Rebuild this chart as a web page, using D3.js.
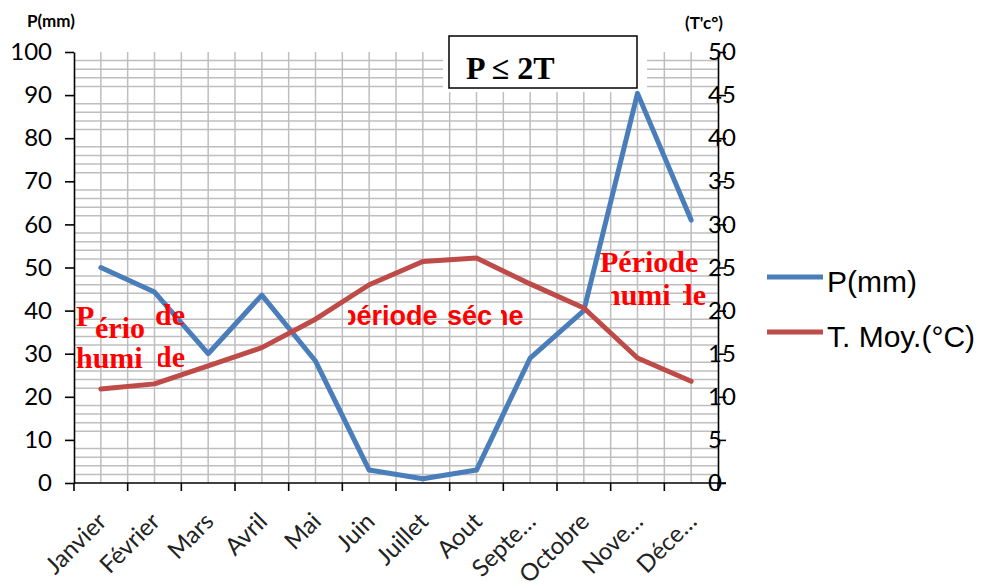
<!DOCTYPE html>
<html>
<head>
<meta charset="utf-8">
<script src="https://cdn.jsdelivr.net/npm/d3@7"></script>
<style>
  body { margin: 0; background: #fff; }
  svg { display: block; }
</style>
</head>
<body>
<div id="chart"></div>
<script>
var width = 983;
var height = 588;

// data
var months = ["Janvier", "Février", "Mars", "Avril", "Mai", "Juin", "Juillet", "Aout", "Septe…", "Octobre", "Nove…", "Déce…"];
var pluie = [50, 44.3, 30, 43.6, 28.3, 3, 1, 3, 29, 40, 90.4, 61];
var temp = [10.9, 11.5, 13.6, 15.7, 19, 23, 25.7, 26.1, 23.1, 20.3, 14.5, 11.8];
var leftTicks = [0, 10, 20, 30, 40, 50, 60, 70, 80, 90, 100];
var rightTicks = [0, 5, 10, 15, 20, 25, 30, 35, 40, 45, 50];
var legendItems = [
  {label: "P(mm)", color: "#4A7EBB"},
  {label: "T. Moy.(°C)", color: "#BE4B48"}
];

var svg = d3.select("#chart")
  .append("svg")
  .attr("width", width)
  .attr("height", height);

var x = d3.scaleBand().domain(months).range([74, 718]);
var yL = d3.scaleLinear().domain([0, 100]).range([483, 52]);
var yR = d3.scaleLinear().domain([0, 50]).range([483, 52]);

function cx(m) { return x(m) + x.bandwidth() / 2; }

// grid: minor horizontal lines every 2 mm (none on the major ticks)
var hLines = d3.range(2, 100, 2).filter(function(v) { return v % 10 != 0; });
var grid = svg.append("g").attr("stroke", "#BEBEBE").attr("stroke-width", 1.5);
grid.selectAll(".h")
  .data(hLines)
  .enter()
  .append("line")
  .attr("x1", 74).attr("x2", 718)
  .attr("y1", function(d) { return yL(d); })
  .attr("y2", function(d) { return yL(d); });

// vertical lines at every half category
var vLines = d3.range(1, months.length * 2);
grid.selectAll(".v")
  .data(vLines)
  .enter()
  .append("line")
  .attr("x1", function(d) { return 74 + d * x.bandwidth() / 2; })
  .attr("x2", function(d) { return 74 + d * x.bandwidth() / 2; })
  .attr("y1", yL(100)).attr("y2", yL(0));

// P <= 2T box
svg.append("rect")
  .attr("x", 443).attr("y", 30).attr("width", 204).attr("height", 62)
  .attr("fill", "#fff");
svg.append("rect")
  .attr("x", 449).attr("y", 36).attr("width", 188).attr("height", 52)
  .attr("fill", "#fff").attr("stroke", "#000").attr("stroke-width", 1.5);
svg.append("text")
  .attr("x", 466).attr("y", 79)
  .style("font-family", "'Liberation Serif', 'Times New Roman', serif")
  .style("font-weight", "bold").style("font-size", "32px")
  .text("P ≤ 2T");

// axes
var axisFont = "Lato, 'Open Sans', sans-serif";

var leftAxis = svg.append("g")
  .attr("transform", "translate(74,0)")
  .call(d3.axisLeft(yL).tickValues(leftTicks).tickSize(9).tickSizeOuter(0).tickPadding(13));
leftAxis.selectAll("text").style("font-family", axisFont).style("font-size", "24px").attr("fill", "#000");

var rightAxis = svg.append("g")
  .attr("transform", "translate(718,0)")
  .call(d3.axisRight(yR).tickValues(rightTicks).tickSize(8).tickSizeOuter(0));
rightAxis.selectAll("text")
  .attr("x", -10)
  .style("font-family", axisFont).style("font-size", "24px").attr("fill", "#000");

svg.selectAll(".domain, .tick line").attr("stroke", "#000").attr("stroke-width", 1.6);

// x axis with ticks on the category boundaries
var xAxis = svg.append("g");
xAxis.append("line")
  .attr("x1", 74).attr("x2", 726).attr("y1", 483).attr("y2", 483)
  .attr("stroke", "#000").attr("stroke-width", 1.6);
xAxis.selectAll(".xt")
  .data(months.concat(["end"]))
  .enter()
  .append("line")
  .attr("x1", function(d, i) { return i < months.length ? x(d) : 718; })
  .attr("x2", function(d, i) { return i < months.length ? x(d) : 718; })
  .attr("y1", 483).attr("y2", 491)
  .attr("stroke", "#000").attr("stroke-width", 1.6);
xAxis.selectAll(".xl")
  .data(months)
  .enter()
  .append("text")
  .attr("transform", function(d) { return "translate(" + (cx(d) + 7) + ",523) rotate(-45)"; })
  .attr("text-anchor", "end")
  .style("font-family", axisFont).style("font-size", "24px")
  .attr("fill", "#222")
  .text(function(d) { return d; });

// axis titles
svg.append("text")
  .attr("x", 27).attr("y", 27)
  .style("font-family", axisFont).style("font-weight", "bold").style("font-size", "17px")
  .text("P(mm)");
svg.append("text")
  .attr("x", 685).attr("y", 29)
  .style("font-family", axisFont).style("font-weight", "bold").style("font-size", "17px")
  .text("(T'c°)");

// red period labels (some letters are cut off in the original)
var defs = svg.append("defs");
var clipCount = 0;
function label(str, lx, ly, font, size, clipX) {
  var t = svg.append("text")
    .attr("x", lx).attr("y", ly)
    .attr("fill", "#FF0000")
    .style("font-family", font).style("font-weight", "bold").style("font-size", size + "px")
    .text(str);
  if (clipX != null) {
    var id = "clip" + (clipCount++);
    defs.append("clipPath").attr("id", id)
      .append("rect").attr("x", clipX).attr("y", ly - 40).attr("width", 300).attr("height", 60);
    t.attr("clip-path", "url(#" + id + ")");
  }
}
var serif = "'Liberation Serif', 'Times New Roman', serif";
var sans = "'Liberation Sans', Arial, sans-serif";

// lines
var lineP = d3.line()
  .x(function(d, i) { return cx(months[i]); })
  .y(function(d) { return yL(d); });
var lineT = d3.line()
  .x(function(d, i) { return cx(months[i]); })
  .y(function(d) { return yR(d); });

svg.append("path").datum(pluie)
  .attr("d", lineP).attr("fill", "none")
  .attr("stroke", legendItems[0].color).attr("stroke-width", 5)
  .attr("stroke-linejoin", "round").attr("stroke-linecap", "round");
svg.append("path").datum(temp)
  .attr("d", lineT).attr("fill", "none")
  .attr("stroke", legendItems[1].color).attr("stroke-width", 5)
  .attr("stroke-linejoin", "round").attr("stroke-linecap", "round");

label("P", 76, 326, serif, 30);
label("ério", 95, 338, serif, 30);
label("de", 155, 325, serif, 30);
label("humi", 76, 368, serif, 30);
label("de", 155, 367, serif, 30, 158);

label("période", 340, 325, sans, 27, 348);
label("séc", 447, 325, sans, 27);
label("he", 492, 325, sans, 27, 501);

label("Période", 600, 272, serif, 30);
label("humi", 604, 305, serif, 30, 611);
label("de", 676, 305, serif, 30, 683);

// legend
var legend = svg.append("g")
  .selectAll("g")
  .data(legendItems)
  .enter()
  .append("g")
  .attr("transform", function(d, i) { return "translate(767," + (277 + i * 55) + ")"; });
legend.append("line")
  .attr("x1", 0).attr("x2", 56)
  .attr("stroke", function(d) { return d.color; })
  .attr("stroke-width", 5);
legend.append("text")
  .attr("x", 60).attr("y", 4)
  .attr("dy", "0.35em")
  .style("font-family", sans).style("font-size", "30px")
  .text(function(d) { return d.label; });
</script>
</body>
</html>
